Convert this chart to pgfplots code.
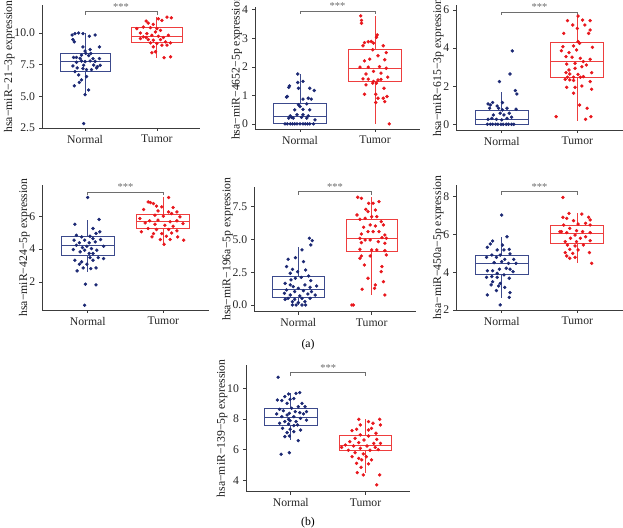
\documentclass[border=0pt]{standalone}
\usepackage{fontspec}
\setmainfont{Liberation Serif}
\usepackage{pgfplots}
\pgfplotsset{compat=1.18}
\usepgfplotslibrary{statistics}

\definecolor{nblue}{RGB}{27,40,115}
\definecolor{nbox}{RGB}{60,74,140}
\definecolor{tred}{RGB}{232,22,28}
\definecolor{tbox}{RGB}{238,62,62}
\definecolor{axgray}{RGB}{60,60,60}
\definecolor{sigcol}{RGB}{110,110,110}

\pgfplotsset{
  mir/.style={
    scale only axis, anchor=south west,
    axis lines=left, axis line style={-, draw=axgray, line width=0.6pt},
    xmin=0.4, xmax=2.6, xtick={1,2}, xticklabels={Normal,Tumor},
    tick align=outside, major tick length=2.5pt,
    tick style={draw=axgray, line width=0.6pt},
    ticklabel style={font=\fontsize{10}{12}\selectfont, text=black!85},
    ylabel style={font=\fontsize{10}{12}\selectfont, text=black!90},
    ylabel shift=-7pt,
    /pgf/number format/assume math mode=true,
    boxplot/draw direction=y,
    clip=false,
  },
  pts/.style={only marks, mark=*, mark size=1.25pt},
}

% boxes: lower whisker, lower quartile, median, upper quartile, upper whisker
\newcommand{\nbox}[5]{\addplot[boxplot prepared={draw position=1, lower whisker=#1,
  lower quartile=#2, median=#3, upper quartile=#4, upper whisker=#5,
  box extend=0.7, whisker extend=0}, draw=nbox, line width=0.7pt] coordinates {};}
\newcommand{\tbox}[5]{\addplot[boxplot prepared={draw position=2, lower whisker=#1,
  lower quartile=#2, median=#3, upper quartile=#4, upper whisker=#5,
  box extend=0.7, whisker extend=0}, draw=tbox, line width=0.7pt] coordinates {};}
\newcommand{\sig}[1]{%
  \draw[sigcol, line width=0.6pt] ([yshift=-2.5pt]axis cs:1,#1) -- (axis cs:1,#1)
    -- (axis cs:2,#1) -- ([yshift=-2.5pt]axis cs:2,#1);
  \node[above, inner sep=0.8pt, text=sigcol, font=\fontsize{9}{10}\selectfont]
    at (axis cs:1.5,#1) {***};}

\begin{document}
\begin{tikzpicture}
\useasboundingbox (0,0) rectangle (18.69,15.84);

% ---------- panel 1
\begin{axis}[mir, at={(1.26cm,12.0cm)}, width=4.74cm, height=3.69cm,
  ymin=2.5, ymax=12.21, ytick={2.5,5,7.5,10},
  yticklabel style={/pgf/number format/.cd, fixed, fixed zerofill, precision=1},
  ylabel={hsa−miR−21−3p expression}]
\nbox{5.13}{7.0}{7.79}{8.39}{10.0}
\tbox{8.05}{9.24}{9.74}{10.47}{11.3}
\addplot[pts, nblue] coordinates {(0.82,9.84)(0.86,9.95)(0.91,10.0)(0.97,9.95)(1.06,9.74)(1.14,9.84)(0.83,9.48)(0.85,9.30)(0.97,8.9)(1.07,8.7)(1.2,8.9)(1.0,8.57)(1.01,8.39)(1.08,8.39)(0.95,8.25)(1.05,8.22)(0.84,8.07)(0.88,8.07)(0.93,8.0)(1.11,7.98)(1.2,7.98)(0.95,7.79)(1.0,7.74)(1.07,7.79)(1.14,7.76)(0.88,7.69)(0.83,7.4)(0.98,7.45)(1.12,7.47)(1.17,7.34)(1.21,7.45)(0.89,7.24)(0.97,7.19)(1.02,7.11)(1.09,7.11)(1.16,7.24)(0.86,6.95)(0.91,6.69)(1.02,6.56)(0.95,6.3)(0.92,6.1)(0.85,5.83)(1.05,5.5)(1.0,5.13)(0.98,2.85)};
\addplot[pts, tred] coordinates {(1.85,10.94)(1.88,10.78)(1.95,10.68)(2.02,11.12)(2.14,11.25)(2.2,11.2)(2.07,10.99)(1.72,10.34)(1.81,10.47)(1.91,10.42)(2.0,10.34)(2.05,10.21)(1.98,10.08)(1.86,9.95)(1.77,10.0)(1.93,9.82)(1.81,9.69)(2.02,9.74)(2.09,9.64)(2.16,9.82)(1.88,9.48)(1.95,9.43)(2.05,9.48)(2.12,9.3)(2.19,9.22)(1.91,9.22)(2.0,9.17)(2.07,9.04)(1.95,8.91)(1.98,8.52)(1.93,8.44)(2.1,8.05)(2.19,8.12)(2.14,9.04)(1.85,9.64)(1.77,9.56)};
\sig{11.68}
\end{axis}

% ---------- panel 2
\begin{axis}[mir, at={(7.65cm,11.97cm)}, width=4.95cm, height=3.66cm,
  ymin=-0.18, ymax=4.1, ytick={0,1,2,3,4},
  ylabel={hsa−miR−4652−5p expression}]
\nbox{0}{0}{0.26}{0.73}{1.75}
\tbox{0}{1.49}{1.93}{2.62}{3.79}
\addplot[pts, nblue] coordinates {(0.8,0)(0.83,0)(0.87,0)(0.9,0)(0.93,0)(0.96,0)(1.0,0)(1.04,0)(1.07,0)(1.1,0)(1.13,0)(1.18,0)(0.85,0.2)(0.91,0.2)(1.02,0.23)(1.09,0.2)(1.04,0.32)(0.96,0.32)(0.87,0.28)(1.11,0.28)(0.93,0.49)(1.04,0.51)(1.13,0.49)(1.0,0.61)(0.98,0.67)(1.09,0.7)(1.15,0.87)(1.11,0.9)(1.04,0.87)(0.83,0.96)(0.82,0.94)(0.86,1.33)(0.85,1.28)(0.98,1.25)(1.04,1.49)(0.97,1.45)(1.13,1.25)(1.19,1.17)(0.97,1.75)(0.89,0.23)(1.2,0.14)};
\addplot[pts, tred] coordinates {(1.81,3.79)(1.82,3.63)(1.82,3.53)(2.03,3.12)(2.02,3.04)(1.95,2.89)(1.86,2.85)(1.91,2.88)(1.98,2.83)(1.84,2.74)(2.11,2.74)(1.97,2.6)(2.15,2.5)(1.86,2.21)(2.04,2.39)(2.13,2.25)(1.93,2.27)(1.8,1.99)(1.91,1.99)(2.06,2.01)(2.15,1.95)(1.98,1.84)(2.08,1.78)(1.84,1.58)(1.91,1.57)(1.98,1.49)(2.04,1.54)(2.08,1.56)(2.17,1.64)(1.88,1.37)(1.97,1.43)(2.02,1.43)(1.86,1.04)(2.01,1.04)(2.04,0.9)(2.11,0.9)(2.16,0.96)(2.13,0.78)(2.01,0.75)(2.19,0.0)(1.88,1.75)(2.12,1.25)};
\sig{3.96}
\end{axis}

% ---------- panel 3
\begin{axis}[mir, at={(13.69cm,11.94cm)}, width=4.99cm, height=3.75cm,
  ymin=-0.3, ymax=6.26, ytick={0,2,4,6},
  ylabel={hsa−miR−615−3p expression}]
\nbox{0}{0}{0.26}{0.72}{1.71}
\tbox{0.19}{2.47}{3.32}{4.28}{5.68}
\addplot[pts, nblue] coordinates {(0.81,0)(0.85,0)(0.88,0)(0.92,0)(0.95,0)(0.99,0)(1.02,0)(1.06,0)(1.09,0)(1.13,0)(1.16,0)(0.82,0.26)(0.87,0.31)(0.93,0.26)(1.0,0.23)(1.07,0.31)(1.13,0.37)(0.89,0.49)(0.98,0.58)(1.03,0.49)(1.1,0.58)(0.84,0.84)(0.96,0.84)(1.07,0.84)(1.19,0.79)(0.85,1.01)(0.94,0.96)(1.01,1.14)(0.88,1.14)(1.18,1.77)(1.2,1.59)(0.97,2.24)(1.11,2.64)(1.14,3.85)(0.82,1.07)(1.01,0.75)};
\addplot[pts, tred] coordinates {(2.01,5.68)(1.87,5.44)(2.07,5.47)(2.17,5.44)(1.94,5.21)(2.1,5.21)(2.0,5.03)(1.82,4.77)(2.17,4.95)(2.15,4.77)(2.01,4.34)(2.03,4.25)(1.81,4.07)(1.95,4.11)(2.2,4.04)(1.79,3.86)(1.89,3.76)(1.99,3.9)(1.85,3.55)(1.93,3.52)(2.04,3.46)(2.17,3.41)(1.86,3.16)(1.97,3.2)(2.08,3.29)(2.06,3.02)(2.12,3.11)(1.89,2.85)(1.97,2.94)(1.85,2.71)(1.9,2.64)(2.01,2.62)(1.87,2.47)(1.95,2.47)(2.08,2.5)(1.84,2.36)(1.9,2.33)(2.04,2.47)(2.19,2.71)(2.17,2.24)(1.95,2.3)(1.86,1.94)(1.97,1.94)(2.06,2.01)(1.95,1.63)(2.19,1.84)(2.03,1.01)(2.13,0.84)(1.72,0.4)(2.18,0.4)(2.11,0.26)};
\sig{5.9}
\end{axis}

% ---------- panel 4
\begin{axis}[mir, at={(1.27cm,6.54cm)}, width=4.99cm, height=3.75cm,
  ymin=0.29, ymax=7.9, ytick={2,4,6},
  ylabel={hsa−miR−424−5p expression}]
\nbox{2.61}{3.62}{4.21}{4.74}{5.76}
\tbox{4.29}{5.25}{5.7}{6.12}{7.14}
\addplot[pts, nblue] coordinates {(1.0,7.14)(1.15,5.8)(0.83,5.51)(1.07,5.25)(1.16,5.05)(1.11,4.95)(0.85,4.84)(0.92,4.74)(1.03,4.78)(1.07,4.64)(0.82,4.54)(0.96,4.54)(1.17,4.58)(0.89,4.38)(1.02,4.38)(1.1,4.44)(0.99,4.17)(0.93,4.09)(1.21,4.17)(0.81,3.97)(1.05,4.03)(0.9,3.83)(1.12,3.93)(0.96,3.93)(1.02,3.73)(0.83,3.32)(0.92,3.22)(1.07,3.32)(1.21,3.42)(0.89,3.08)(0.99,3.08)(1.03,3.48)(1.14,3.48)(0.94,2.85)(1.04,2.81)(1.11,2.85)(0.86,2.67)(0.97,1.86)(1.11,1.82)(0.96,0.58)(0.85,4.23)(1.07,3.73)};
\addplot[pts, tred] coordinates {(2.07,7.14)(1.8,6.87)(1.87,6.77)(1.83,6.83)(1.91,6.61)(1.98,6.57)(2.13,6.53)(1.74,6.41)(1.93,6.32)(2.07,6.26)(2.18,6.26)(2.11,6.16)(1.89,6.06)(2.0,6.0)(2.22,5.96)(1.69,5.86)(1.82,5.72)(1.93,5.76)(2.09,5.66)(2.18,5.72)(1.76,5.59)(1.89,5.51)(2.02,5.45)(2.13,5.39)(2.26,5.55)(1.8,5.25)(1.91,5.19)(2.07,5.19)(2.18,5.11)(1.71,5.05)(1.87,4.94)(1.98,4.94)(2.11,4.98)(1.85,4.74)(2.04,4.78)(2.19,4.74)(1.96,4.58)(2.09,4.58)(2.27,4.54)(2.01,4.29)};
\sig{7.48}
\end{axis}

% ---------- panel 5
\begin{axis}[mir, at={(7.63cm,6.49cm)}, width=4.84cm, height=3.75cm,
  ymin=-0.51, ymax=9.03, ytick={0,2.5,5,7.5},
  yticklabel style={/pgf/number format/.cd, fixed, fixed zerofill, precision=1},
  ylabel={hsa−miR−196a−5p expression}]
\nbox{0}{0.59}{1.22}{2.16}{4.45}
\tbox{0.76}{4.12}{5.09}{6.54}{8.22}
\addplot[pts, nblue] coordinates {(1.15,5.09)(1.19,4.91)(1.17,4.58)(1.05,4.2)(0.96,3.61)(0.86,3.49)(1.07,3.31)(0.84,2.93)(0.92,2.72)(0.99,2.54)(1.1,2.67)(0.89,2.42)(1.04,2.11)(1.14,2.21)(0.96,2.04)(1.17,1.86)(0.82,1.65)(0.89,1.53)(1.09,1.53)(0.93,1.4)(1.0,1.27)(1.16,1.35)(1.25,1.45)(0.84,1.15)(0.95,1.02)(1.07,1.09)(1.18,1.02)(0.81,0.89)(0.89,0.76)(1.02,0.69)(1.13,0.84)(1.23,0.76)(0.86,0.51)(0.95,0.43)(1.05,0.51)(1.16,0.51)(0.92,0.25)(1.0,0.18)(1.09,0.25)(0.97,0)(1.05,0)(0.92,0)(1.1,0)(0.82,0.43)(0.9,1.91)};
\addplot[pts, tred] coordinates {(1.81,8.22)(1.86,8.14)(2.1,7.89)(1.96,7.76)(2.02,7.76)(1.92,7.3)(2.05,7.25)(1.95,7.12)(1.8,6.87)(2.0,6.74)(1.91,6.62)(2.07,6.74)(1.84,6.54)(2.13,6.36)(1.98,6.11)(1.89,5.93)(2.05,6.03)(2.16,6.11)(2.02,5.6)(2.1,5.6)(1.95,5.6)(1.86,5.42)(2.18,5.34)(1.84,5.09)(1.91,4.96)(1.98,4.96)(2.14,5.14)(2.2,5.09)(1.86,4.76)(2.09,4.83)(2.18,4.71)(1.84,4.25)(2.0,4.2)(2.07,4.2)(2.18,4.15)(1.86,3.74)(1.98,3.74)(1.84,3.56)(2.2,3.82)(1.9,3.05)(2.14,2.93)(2.13,2.54)(1.95,2.04)(2.16,1.78)(2.05,1.53)(1.87,1.2)(2.04,1.27)(2.18,0.76)(1.73,0)(1.75,0)};
\sig{8.65}
\end{axis}

% ---------- panel 6
\begin{axis}[mir, at={(13.69cm,6.54cm)}, width=4.99cm, height=3.75cm,
  ymin=2.0, ymax=8.62, ytick={2,4,6,8},
  ylabel={hsa−miR−450a−5p expression}]
\nbox{2.62}{3.91}{4.47}{4.88}{5.85}
\tbox{4.47}{5.5}{6.06}{6.5}{7.12}
\addplot[pts, nblue] coordinates {(1.0,7.03)(1.07,5.88)(0.88,5.65)(0.85,5.5)(0.81,5.32)(1.01,5.44)(0.94,5.18)(1.03,5.18)(1.1,5.21)(0.87,4.91)(0.98,4.91)(1.11,4.97)(0.8,4.79)(0.93,4.79)(1.04,4.68)(1.16,4.68)(0.9,4.51)(1.0,4.56)(1.09,4.47)(1.19,4.47)(0.81,4.08)(0.88,4.08)(0.97,4.16)(1.06,4.21)(1.11,4.16)(0.94,3.94)(1.03,3.86)(0.87,3.77)(0.94,3.73)(0.8,3.73)(1.1,3.68)(0.88,3.5)(0.98,3.41)(0.86,3.33)(0.96,3.27)(1.04,3.2)(0.93,3.03)(0.81,2.8)(1.11,2.92)(1.1,2.67)(0.98,2.27)(1.15,4.03)};
\addplot[pts, tred] coordinates {(1.81,7.96)(1.89,7.12)(2.06,7.08)(1.81,6.91)(1.86,6.85)(2.15,6.91)(2.17,6.77)(1.95,6.73)(2.01,6.55)(2.11,6.59)(1.82,6.5)(2.17,6.5)(1.9,6.32)(1.99,6.2)(1.79,6.15)(1.86,6.1)(2.07,6.15)(2.17,6.1)(1.97,5.97)(2.11,5.88)(1.91,5.8)(2.04,5.8)(1.84,5.62)(1.99,5.62)(2.17,5.67)(1.87,5.44)(1.97,5.39)(2.08,5.44)(1.9,5.21)(2.01,5.18)(1.84,5.04)(1.94,5.0)(1.86,4.86)(1.97,4.79)(1.9,4.74)(2.16,5.04)(2.19,4.47)(1.77,6.15)};
\sig{8.26}
\end{axis}

% ---------- panel 7
\begin{axis}[mir, at={(7.38cm,1.09cm)}, width=4.93cm, height=3.80cm,
  ymin=3.26, ymax=11.52, ytick={4,6,8,10},
  ylabel={hsa−miR−139−5p expression}]
\nbox{6.63}{7.57}{8.11}{8.7}{9.72}
\tbox{4.5}{5.93}{6.3}{6.96}{7.98}
\addplot[pts, nblue] coordinates {(0.83,10.72)(1.07,9.67)(1.12,9.72)(0.97,9.63)(0.92,9.46)(0.99,9.28)(1.04,9.33)(0.82,9.24)(0.88,9.2)(1.15,9.02)(0.95,9.02)(1.19,8.8)(1.1,8.8)(0.85,8.63)(1.01,8.7)(0.9,8.54)(1.06,8.48)(1.21,8.48)(0.98,8.37)(1.12,8.41)(0.81,8.33)(0.95,8.26)(1.17,8.33)(0.88,8.15)(1.04,8.15)(1.13,8.04)(0.97,7.98)(0.99,7.89)(0.92,7.83)(1.07,7.83)(1.21,7.93)(0.85,7.72)(0.97,7.67)(1.09,7.61)(1.04,7.57)(0.89,7.39)(0.99,7.33)(1.13,7.28)(0.95,7.11)(1.04,7.17)(0.98,6.89)(0.92,6.85)(1.1,6.59)(0.98,5.8)(0.87,5.7)};
\addplot[pts, tred] coordinates {(1.91,7.98)(2.19,7.98)(2.04,7.83)(2.1,7.72)(1.93,7.61)(2.2,7.61)(2.08,7.39)(1.88,7.33)(1.82,7.24)(2.04,7.28)(2.14,7.07)(1.93,6.96)(2.04,6.89)(1.86,6.74)(1.98,6.63)(2.15,6.67)(1.79,6.52)(1.91,6.46)(2.11,6.41)(2.2,6.41)(1.73,6.3)(1.84,6.24)(2.02,6.24)(2.13,6.15)(1.68,6.15)(1.93,6.09)(1.77,5.96)(2.06,5.96)(2.17,6.0)(1.86,5.8)(1.97,5.72)(1.82,5.54)(1.91,5.43)(2.01,5.54)(1.95,5.33)(2.08,5.33)(1.88,5.11)(2.04,5.07)(1.94,4.85)(1.97,4.35)(1.89,4.5)(2.19,4.35)(2.15,3.7)};
\sig{11.02}
\end{axis}

\node[font=\fontsize{10}{12}\selectfont] at (9.24,5.49) {(a)};
\node[font=\fontsize{10}{12}\selectfont] at (9.24,0.17) {(b)};
\end{tikzpicture}
\end{document}
